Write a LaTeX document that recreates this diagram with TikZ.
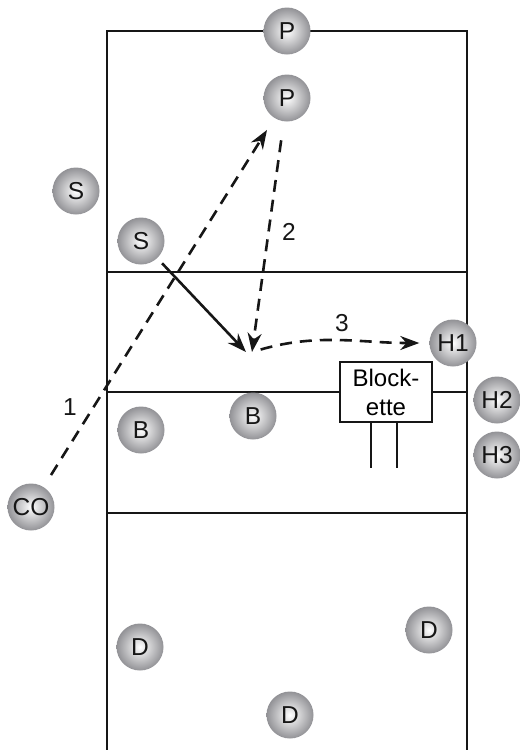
\documentclass[tikz,border=0pt]{standalone}
\usepackage{fontspec}
\setmainfont{Liberation Sans}
\usetikzlibrary{arrows.meta, positioning}
\definecolor{ballgrey}{HTML}{929296}
\definecolor{ink}{HTML}{161616}
\tikzstyle{player}=[circle,minimum size=47pt,inner sep=0pt,shading=radial,
  inner color=white,outer color=ballgrey,text=ink]
\tikzstyle{arr}=[-{Stealth[length=19pt,width=14pt]},line width=2.6pt,color=ink]
\tikzstyle{dasharr}=[arr,dash pattern=on 12pt off 8pt]

\begin{document}
\begin{tikzpicture}[x=1pt,y=-1pt,every node/.style={font=\fontsize{24.5}{29}\selectfont}]
  \useasboundingbox (0,0) rectangle (521,750);
  % court
  \draw[line width=2.5pt,color=ink] (107,750) -- (107,31) -- (467,31) -- (467,750);
  \draw[line width=1.3pt,color=ink] (107,272) -- (467,272);
  \draw[line width=1.3pt,color=ink] (107,513) -- (467,513);
  \draw[line width=2.5pt,color=ink] (107,392) -- (467,392);
  % blockette
  \node[draw=ink,line width=2.2pt,fill=white,minimum width=92pt,minimum height=60pt,
        inner sep=0pt,align=center,font=\fontsize{24}{29}\selectfont] (blk) at (386,392) {Block-\\ette};
  \draw[line width=2pt,color=ink] ([xshift=-15pt]blk.south) -- ++(0,45);
  \draw[line width=2pt,color=ink] ([xshift=11pt]blk.south) -- ++(0,45);
  % players
  \node[player] (p1) at (287,31) {P};
  \node[player] (p2) at (287,98) {P};
  \node[player] (s1) at (76,191) {S};
  \node[player] (s2) at (141,241) {S};
  \node[player] (h1) at (453,343) {H1};
  \node[player] (h2) at (497,400) {H2};
  \node[player] (h3) at (497,455) {H3};
  \node[player] (b1) at (141,430) {B};
  \node[player] (b2) at (253,416) {B};
  \node[player] (co) at (31,507) {CO};
  \node[player] (d1) at (140,647) {D};
  \node[player] (d2) at (429,630) {D};
  \node[player] (d3) at (290,715) {D};
  \coordinate (set) at (252,352);
  % moves
  \draw[dasharr,shorten <=14pt,shorten >=14pt] (co) -- (p2);
  \draw[dasharr,shorten <=19pt] (p2) -- (set);
  \draw[arr,shorten <=7pt] (s2) -- ([xshift=-6pt]set);
  \draw[dasharr,shorten <=9pt,shorten >=10pt] (set) to[out=16,in=180] (h1);
  \node[text=ink] (n1) at (70,407) {1};
  \node[text=ink] (n2) at (289,232) {2};
  \node[text=ink] (n3) at (342,323) {3};
\end{tikzpicture}
\end{document}
